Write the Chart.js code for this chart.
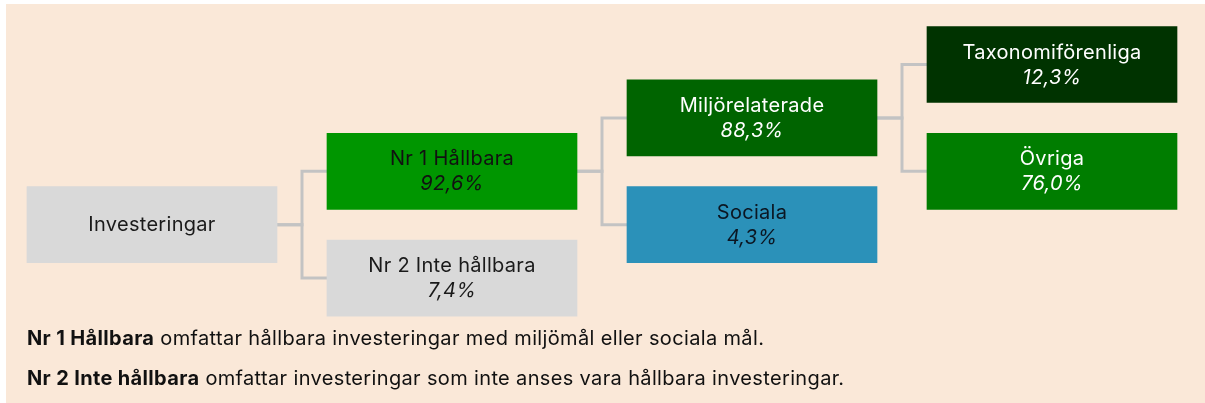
<!DOCTYPE html>
<html>
<head>
<meta charset="utf-8">
<script src="https://cdn.jsdelivr.net/npm/chart.js@4"></script>
<style>
  html, body { margin: 0; padding: 0; background: #ffffff; }
  #wrap { position: relative; width: 1205px; height: 403px; overflow: hidden; }
  #panel { position: absolute; left: 6px; top: 4px; right: 0; bottom: 0; background: #FAE8D8; }
  #chart { position: absolute; left: 0; top: 0; }
  #notes { position: absolute; left: 27px; top: 318px; font-family: Inter, "DejaVu Sans", sans-serif; font-size: 20px; letter-spacing: 0.35px; line-height: 40px; color: #111; }
  #notes b { font-weight: 700; }
</style>
</head>
<body>
<div id="wrap">
  <div id="panel"></div>
  <canvas id="chart" width="1205" height="403"></canvas>
  <div id="notes">
    <div><b>Nr 1 Hållbara</b> omfattar hållbara investeringar med miljömål eller sociala mål.</div>
    <div><b>Nr 2 Inte hållbara</b> omfattar investeringar som inte anses vara hållbara investeringar.</div>
  </div>
</div>
<script>
// ---- data ----
const nodeNames   = ['Investeringar', 'Nr 1 Hållbara', 'Nr 2 Inte hållbara', 'Miljörelaterade', 'Sociala', 'Taxonomiförenliga', 'Övriga'];
const nodeValues  = [null, 92.6, 7.4, 88.3, 4.3, 12.3, 76.0];
const nodeParents = [null, 0, 0, 1, 1, 3, 3];

// ---- styles ----
const nodeFill  = ['#D9D9D9', '#009600', '#D9D9D9', '#006400', '#2B91B9', '#003300', '#007D00'];
const nodeText  = ['#1a1a1a', '#111111', '#1a1a1a', '#ffffff', '#0b1622', '#ffffff', '#ffffff'];
const LINK_COLOR = '#C3C3C3';
const BOX_W = 250 / 300;          // box width in column units
const ROOT_ROW = 3;

// ---- tree layout (derived from parent links) ----
const depth = [], row = [];
nodeParents.forEach((p, i) => {
  if (p === null) { depth[i] = 0; row[i] = ROOT_ROW; return; }
  const siblings = nodeParents.map((q, j) => q === p ? j : -1).filter(j => j >= 0);
  const k = siblings.indexOf(i);
  depth[i] = depth[p] + 1;
  row[i] = row[p] + (k === 0 ? -1 : 1);
});

const boxData = nodeNames.map((n, i) => ({ x: [depth[i], depth[i] + BOX_W], y: row[i] }));

const linkSets = [];
nodeParents.forEach((p, i) => {
  if (p === null) return;
  const xEnd = depth[p] + BOX_W;
  const xMid = xEnd + (1 - BOX_W) / 2;
  linkSets.push({
    type: 'line',
    data: [{ x: xEnd, y: row[p] }, { x: xMid, y: row[p] }, { x: xMid, y: row[i] }, { x: depth[i], y: row[i] }],
    borderColor: LINK_COLOR,
    borderWidth: 3,
    pointRadius: 0,
    fill: false,
    tension: 0,
    order: 2
  });
});

const fmt = v => v.toFixed(1).replace('.', ',') + '%';
const FONT = 'Inter, "DejaVu Sans", sans-serif';

const labelPlugin = {
  id: 'boxLabels',
  afterDatasetsDraw(chart) {
    const ctx = chart.ctx;
    const meta = chart.getDatasetMeta(0);
    ctx.save();
    ctx.textAlign = 'center';
    ctx.textBaseline = 'middle';
    if ('letterSpacing' in ctx) ctx.letterSpacing = '0.3px';
    meta.data.forEach((el, i) => {
      const c = el.getCenterPoint();
      ctx.fillStyle = nodeText[i];
      if (nodeValues[i] === null) {
        ctx.font = '20px ' + FONT;
        ctx.fillText(nodeNames[i], c.x, c.y);
      } else {
        ctx.font = '20px ' + FONT;
        ctx.fillText(nodeNames[i], c.x, c.y - 12);
        ctx.font = 'italic 20px ' + FONT;
        ctx.fillText(fmt(nodeValues[i]), c.x, c.y + 13);
      }
    });
    ctx.restore();
  }
};

const PX_PER_COL = 300, PX_PER_ROW = 53.4;
const xMin = -27 / PX_PER_COL, yMin = -64.5 / PX_PER_ROW;

new Chart(document.getElementById('chart'), {
  type: 'bar',
  data: {
    datasets: [
      {
        type: 'bar',
        data: boxData,
        backgroundColor: nodeFill,
        borderWidth: 0,
        borderSkipped: false,
        barThickness: 76,
        order: 1
      },
      ...linkSets
    ]
  },
  options: {
    indexAxis: 'y',
    responsive: false,
    animation: false,
    devicePixelRatio: 1,
    layout: { padding: 0 },
    plugins: { legend: { display: false }, tooltip: { enabled: false } },
    scales: {
      x: { type: 'linear', display: false, offset: false, min: xMin, max: xMin + 1205 / PX_PER_COL },
      y: { type: 'linear', display: false, offset: false, reverse: true, min: yMin, max: yMin + 403 / PX_PER_ROW }
    }
  },
  plugins: [labelPlugin]
});
</script>
</body>
</html>
